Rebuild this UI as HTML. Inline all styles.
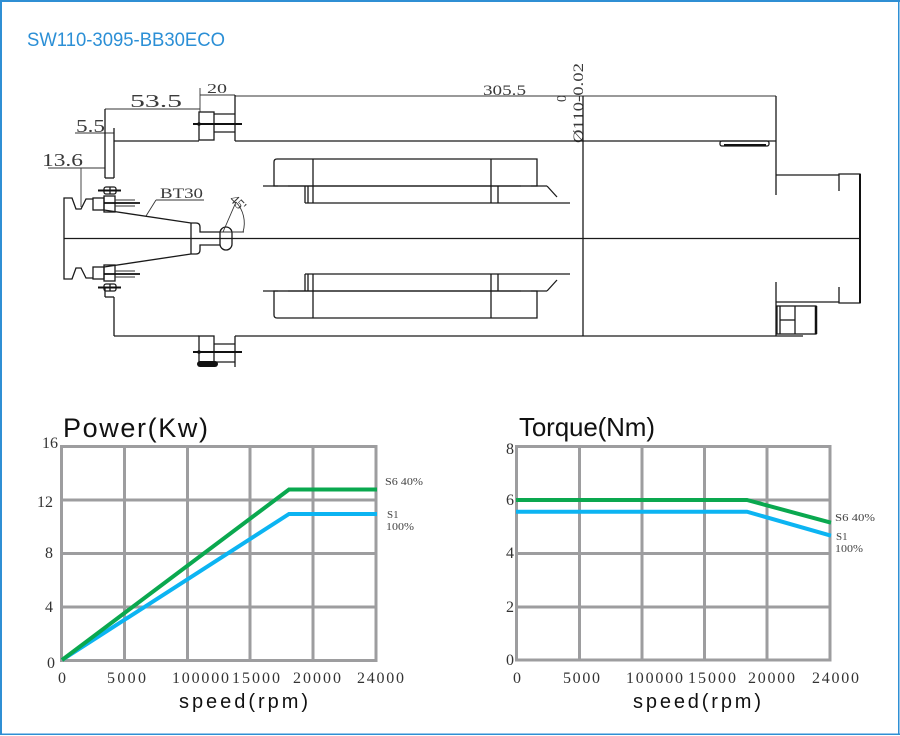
<!DOCTYPE html>
<html><head><meta charset="utf-8"><style>
html,body{margin:0;padding:0;background:#fff;width:900px;height:736px;overflow:hidden}
svg{display:block}
.d{fill:none;stroke:#1a1a1a;stroke-width:1.3}
.t{fill:none;stroke:#333;stroke-width:0.9}
.dim{font-family:"Liberation Serif",serif;fill:#3a3a3a}
.g{stroke:#9d9d9f;stroke-width:3;fill:none}
.ax{font-family:"Liberation Serif",serif;fill:#333;font-size:16px}
.lg{font-family:"Liberation Serif",serif;fill:#444;font-size:11px}
.st{font-family:"Liberation Sans","DejaVu Sans",sans-serif;fill:#111}
</style></head><body>
<svg width="900" height="736" viewBox="0 0 900 736" xmlns="http://www.w3.org/2000/svg">
<rect x="0" y="0" width="900" height="736" fill="#fff"/>
<!-- frame -->
<rect x="0" y="0" width="900" height="2" fill="#2f8fd4"/>
<rect x="0" y="0" width="2" height="735" fill="#2f8fd4"/>
<rect x="898" y="0" width="1.5" height="735" fill="#2f8fd4"/>
<rect x="0" y="733.5" width="900" height="1.5" fill="#2f8fd4"/>

<text x="27" y="46" font-family="Liberation Sans, DejaVu Sans, sans-serif" font-size="19" fill="#2b8fd6" textLength="198" lengthAdjust="spacingAndGlyphs">SW110-3095-BB30ECO</text>

<!-- ===== Drawing ===== -->
<line class="t" x1="105" y1="109" x2="200" y2="109"/>
<line class="t" x1="200" y1="95" x2="235" y2="95"/>
<line class="t" x1="200" y1="88" x2="200" y2="112"/>
<line class="t" x1="235" y1="96" x2="776" y2="96"/>
<line class="t" x1="75" y1="133" x2="114" y2="133"/>
<line class="t" x1="48" y1="168" x2="105" y2="168"/>
<line class="t" x1="81" y1="168" x2="81" y2="207"/>
<text class="dim" x="130" y="107" font-size="18" textLength="52" lengthAdjust="spacingAndGlyphs">53.5</text>
<text class="dim" x="207" y="93" font-size="14" textLength="20" lengthAdjust="spacingAndGlyphs">20</text>
<text class="dim" x="76" y="132" font-size="18" textLength="29" lengthAdjust="spacingAndGlyphs">5.5</text>
<text class="dim" x="42" y="166" font-size="18" textLength="41" lengthAdjust="spacingAndGlyphs">13.6</text>
<text class="dim" x="483" y="95" font-size="15" textLength="43" lengthAdjust="spacingAndGlyphs">305.5</text>
<text class="dim" x="160" y="198" font-size="15" textLength="43" lengthAdjust="spacingAndGlyphs">BT30</text>
<line class="t" x1="146" y1="216" x2="156" y2="200"/>
<line class="t" x1="156" y1="200" x2="204" y2="200"/>
<text class="dim" font-size="15" transform="translate(583,143) rotate(-90)" textLength="80" lengthAdjust="spacingAndGlyphs">Ø110-0.02</text>
<text class="dim" font-size="14" transform="translate(566,102) rotate(-90)">0</text>

<!-- housing -->
<line class="d" x1="105" y1="109" x2="105" y2="178"/>
<line class="d" x1="114" y1="128" x2="114" y2="178"/>
<line class="d" x1="105" y1="178" x2="114" y2="178"/>
<line class="d" x1="114" y1="141" x2="199" y2="141"/>
<line class="d" x1="235" y1="141" x2="776" y2="141"/>
<line class="d" x1="105" y1="287" x2="105" y2="297"/>
<line class="d" x1="105" y1="297" x2="114" y2="297"/>
<line class="d" x1="114" y1="297" x2="114" y2="336"/>
<line class="d" x1="114" y1="336" x2="199" y2="336"/>
<line class="d" x1="235" y1="336" x2="803" y2="336"/>
<line class="d" x1="583" y1="96" x2="583" y2="336"/>
<line class="d" x1="776" y1="96" x2="776" y2="195"/>
<line class="d" x1="776" y1="282" x2="776" y2="336"/>
<line class="d" x1="776" y1="175" x2="839" y2="175"/>
<line class="d" x1="776" y1="302" x2="839" y2="302"/>
<path class="d" d="M839,191 V174 H860 V303 H839 V287"/>
<line x1="860" y1="174" x2="860" y2="303" stroke="#111" stroke-width="2"/>
<rect class="d" x="720" y="141" width="49" height="5" rx="2"/>
<line x1="724" y1="145" x2="766" y2="145" stroke="#111" stroke-width="2"/>
<rect class="d" x="777" y="306" width="39" height="28"/>
<line class="d" x1="795" y1="306" x2="795" y2="334"/>
<line class="d" x1="780" y1="320" x2="795" y2="320"/>
<line class="d" x1="780" y1="306" x2="780" y2="334"/>
<line x1="816" y1="306" x2="816" y2="334" stroke="#111" stroke-width="2.5"/>

<line x1="64" y1="238.5" x2="860" y2="238.5" stroke="#1a1a1a" stroke-width="1.2"/>

<!-- top flange -->
<rect class="d" x="199" y="112" width="15" height="28"/>
<line class="d" x1="214" y1="114" x2="235" y2="114"/>
<line class="d" x1="214" y1="132" x2="235" y2="132"/>
<line class="d" x1="235" y1="95" x2="235" y2="141"/>
<line x1="193" y1="124" x2="242" y2="124" stroke="#111" stroke-width="2"/>
<circle cx="199" cy="124" r="1.8" fill="#111"/>
<!-- bottom flange -->
<rect class="d" x="199" y="336" width="15" height="28"/>
<line class="d" x1="214" y1="344" x2="235" y2="344"/>
<line class="d" x1="214" y1="362" x2="235" y2="362"/>
<line class="d" x1="235" y1="336" x2="235" y2="367"/>
<line x1="193" y1="352" x2="242" y2="352" stroke="#111" stroke-width="2"/>
<circle cx="199" cy="352" r="1.8" fill="#111"/>
<rect x="197" y="361" width="21" height="6" rx="3" fill="#111"/>

<!-- bolt symbols -->
<rect class="d" x="104" y="187" width="12" height="7" rx="2"/>
<line x1="98" y1="190.5" x2="121" y2="190.5" stroke="#111" stroke-width="2"/>
<line class="d" x1="110" y1="187" x2="110" y2="194"/>
<rect class="d" x="104" y="284" width="12" height="7" rx="2"/>
<line x1="98" y1="287.5" x2="121" y2="287.5" stroke="#111" stroke-width="2"/>
<line class="d" x1="110" y1="284" x2="110" y2="291"/>

<!-- tool holder -->
<path class="d" d="M64,238.5 V198 H72 L76,209 H81 L86,199 H93 M64,238.5 V279 H72 L76,268 H81 L86,278 H93"/>
<rect class="d" x="93" y="198" width="11" height="12"/>
<rect class="d" x="104" y="196" width="11" height="16"/>
<rect class="d" x="93" y="267" width="11" height="12"/>
<rect class="d" x="104" y="265" width="11" height="16"/>
<line x1="104" y1="203" x2="140" y2="203" stroke="#111" stroke-width="1.8"/>
<line class="t" x1="115" y1="200" x2="135" y2="200"/>
<line class="t" x1="115" y1="206" x2="135" y2="206"/>
<line x1="104" y1="274" x2="140" y2="274" stroke="#111" stroke-width="1.8"/>
<line class="t" x1="115" y1="271" x2="135" y2="271"/>
<line class="t" x1="115" y1="277" x2="135" y2="277"/>
<line class="d" x1="104" y1="210" x2="191" y2="223"/>
<line class="d" x1="104" y1="267" x2="191" y2="254"/>
<line class="d" x1="191" y1="223" x2="191" y2="254"/>
<path class="d" d="M191,223 H196 Q200,223 200,227 V232 H220 M191,254 H196 Q200,254 200,250 V245 H220"/>
<rect class="d" x="220" y="227" width="12" height="23" rx="6"/>
<line class="t" x1="223" y1="232" x2="236" y2="202"/>
<path class="t" d="M236,202 A31,31 0 0 1 243,232"/>
<line class="t" x1="220" y1="232" x2="244" y2="232"/>
<text class="dim" font-size="14" transform="translate(229,200) rotate(45)">45'</text>

<!-- stators -->
<g>
<path class="d" d="M277,159 H537 V186 H274 V162 Q274,159 277,159"/>
<line class="d" x1="313" y1="159" x2="313" y2="203"/>
<line class="d" x1="491" y1="159" x2="491" y2="203"/>
<line class="d" x1="305" y1="203" x2="570" y2="203"/>
<line class="d" x1="305" y1="186" x2="305" y2="203"/>
<line class="d" x1="308" y1="186" x2="308" y2="203"/>
<line class="d" x1="498" y1="186" x2="498" y2="203"/>
<line class="d" x1="263" y1="186" x2="547" y2="186"/>
<line class="d" x1="547" y1="186" x2="557" y2="197"/>
<line x1="278" y1="186" x2="288" y2="186" stroke="#666" stroke-width="2"/>
<line x1="521" y1="186" x2="531" y2="186" stroke="#666" stroke-width="2"/>
</g>
<g transform="translate(0,477) scale(1,-1)">
<path class="d" d="M277,159 H537 V186 H274 V162 Q274,159 277,159"/>
<line class="d" x1="313" y1="159" x2="313" y2="203"/>
<line class="d" x1="491" y1="159" x2="491" y2="203"/>
<line class="d" x1="305" y1="203" x2="570" y2="203"/>
<line class="d" x1="305" y1="186" x2="305" y2="203"/>
<line class="d" x1="308" y1="186" x2="308" y2="203"/>
<line class="d" x1="498" y1="186" x2="498" y2="203"/>
<line class="d" x1="263" y1="186" x2="547" y2="186"/>
<line class="d" x1="547" y1="186" x2="557" y2="197"/>
<line x1="278" y1="186" x2="288" y2="186" stroke="#666" stroke-width="2"/>
<line x1="521" y1="186" x2="531" y2="186" stroke="#666" stroke-width="2"/>
</g>

<!-- ===== Power chart ===== -->
<text class="st" x="63" y="437" font-size="27" textLength="145" lengthAdjust="spacing">Power(Kw)</text>
<g class="g">
<line x1="61" y1="446.5" x2="376" y2="446.5"/>
<line x1="61" y1="500" x2="376" y2="500"/>
<line x1="61" y1="553.5" x2="376" y2="553.5"/>
<line x1="61" y1="607" x2="376" y2="607"/>
<line x1="61" y1="660.5" x2="376" y2="660.5"/>
<line x1="61.5" y1="445" x2="61.5" y2="662"/>
<line x1="124.5" y1="445" x2="124.5" y2="662"/>
<line x1="187.5" y1="445" x2="187.5" y2="662"/>
<line x1="250" y1="445" x2="250" y2="662"/>
<line x1="313" y1="445" x2="313" y2="662"/>
<line x1="376" y1="445" x2="376" y2="662"/>
</g>
<polyline points="62,660 289,514 377,514" fill="none" stroke="#0cb4f2" stroke-width="4"/>
<polyline points="62,660 289,489.5 377,489.5" fill="none" stroke="#0aa84f" stroke-width="4"/>
<text class="ax" x="58" y="448" text-anchor="end" font-size="17">16</text>
<text class="ax" x="53" y="507" text-anchor="end" font-size="17">12</text>
<text class="ax" x="53" y="558" text-anchor="end" font-size="17">8</text>
<text class="ax" x="53" y="612" text-anchor="end" font-size="17">4</text>
<text class="ax" x="55" y="668" text-anchor="end" font-size="17">0</text>
<text class="ax" x="58" y="683">0</text>
<text class="ax" x="107" y="683" textLength="39" lengthAdjust="spacing">5000</text>
<text class="ax" x="172" y="683" textLength="57" lengthAdjust="spacing">100000</text>
<text class="ax" x="232" y="683" textLength="48" lengthAdjust="spacing">15000</text>
<text class="ax" x="293" y="683" textLength="48" lengthAdjust="spacing">20000</text>
<text class="ax" x="357" y="683" textLength="47" lengthAdjust="spacing">24000</text>
<text class="st" x="179" y="708" font-size="20" textLength="129" lengthAdjust="spacing">speed(rpm)</text>
<text class="lg" x="385" y="485" textLength="38" lengthAdjust="spacingAndGlyphs">S6 40%</text>
<text class="lg" x="387" y="518">S1</text>
<text class="lg" x="386" y="530" textLength="28" lengthAdjust="spacingAndGlyphs">100%</text>

<!-- ===== Torque chart ===== -->
<text class="st" x="519" y="436" font-size="26" textLength="136" lengthAdjust="spacing">Torque(Nm)</text>
<g class="g">
<line x1="516" y1="446.5" x2="830" y2="446.5"/>
<line x1="516" y1="500" x2="830" y2="500"/>
<line x1="516" y1="553.5" x2="830" y2="553.5"/>
<line x1="516" y1="607" x2="830" y2="607"/>
<line x1="516" y1="660" x2="830" y2="660"/>
<line x1="516.5" y1="445" x2="516.5" y2="661.5"/>
<line x1="579.5" y1="445" x2="579.5" y2="661.5"/>
<line x1="642" y1="445" x2="642" y2="661.5"/>
<line x1="704.5" y1="445" x2="704.5" y2="661.5"/>
<line x1="767" y1="445" x2="767" y2="661.5"/>
<line x1="830" y1="445" x2="830" y2="661.5"/>
</g>
<polyline points="516,511.7 747,511.7 831,535.7" fill="none" stroke="#0cb4f2" stroke-width="4"/>
<polyline points="516,500 747,500 831,522.7" fill="none" stroke="#0aa84f" stroke-width="4"/>
<text class="ax" x="514" y="454" text-anchor="end" font-size="17">8</text>
<text class="ax" x="514" y="505" text-anchor="end" font-size="17">6</text>
<text class="ax" x="514" y="558" text-anchor="end" font-size="17">4</text>
<text class="ax" x="514" y="612" text-anchor="end" font-size="17">2</text>
<text class="ax" x="514" y="665" text-anchor="end" font-size="17">0</text>
<text class="ax" x="513" y="683">0</text>
<text class="ax" x="563" y="683" textLength="37" lengthAdjust="spacing">5000</text>
<text class="ax" x="626" y="683" textLength="57" lengthAdjust="spacing">100000</text>
<text class="ax" x="688" y="683" textLength="48" lengthAdjust="spacing">15000</text>
<text class="ax" x="748" y="683" textLength="47" lengthAdjust="spacing">20000</text>
<text class="ax" x="812" y="683" textLength="47" lengthAdjust="spacing">24000</text>
<text class="st" x="633" y="708" font-size="20" textLength="128" lengthAdjust="spacing">speed(rpm)</text>
<text class="lg" x="835" y="521" textLength="40" lengthAdjust="spacingAndGlyphs">S6 40%</text>
<text class="lg" x="836" y="540">S1</text>
<text class="lg" x="835" y="552" textLength="28" lengthAdjust="spacingAndGlyphs">100%</text>
</svg>
</body></html>
